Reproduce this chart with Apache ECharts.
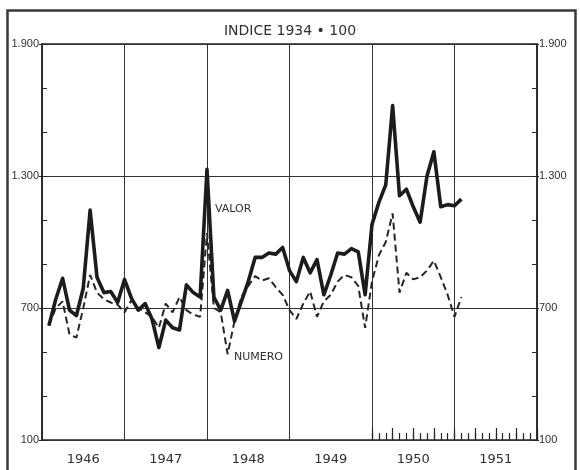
<!DOCTYPE html>
<html><head><meta charset="utf-8">
<script src="https://cdn.jsdelivr.net/npm/echarts@6/dist/echarts.min.js"></script>
<style>html,body{margin:0;padding:0;background:#fff}#c{width:580px;height:470px}</style>
</head><body><div id="c"></div>
<script>
const titleText = 'INDICE 1934 • 100';
const years = ['1946', '1947', '1948', '1949', '1950', '1951'];
const yTicks = [100, 700, 1300, 1900];
const months = [
  '1946-01','1946-02','1946-03','1946-04','1946-05','1946-06','1946-07','1946-08','1946-09','1946-10','1946-11','1946-12',
  '1947-01','1947-02','1947-03','1947-04','1947-05','1947-06','1947-07','1947-08','1947-09','1947-10','1947-11','1947-12',
  '1948-01','1948-02','1948-03','1948-04','1948-05','1948-06','1948-07','1948-08','1948-09','1948-10','1948-11','1948-12',
  '1949-01','1949-02','1949-03','1949-04','1949-05','1949-06','1949-07','1949-08','1949-09','1949-10','1949-11','1949-12',
  '1950-01','1950-02','1950-03','1950-04','1950-05','1950-06','1950-07','1950-08','1950-09','1950-10','1950-11','1950-12',
  '1951-01'
];
const valor = [
  620, 740, 835, 690, 665, 790, 1145, 840, 770, 775, 725, 830,
  745, 690, 720, 650, 520, 645, 610, 600, 805, 770, 750, 1330,
  750, 690, 780, 640, 730, 820, 930, 930, 950, 945, 975, 870,
  820, 930, 860, 920, 760, 850, 950, 945, 970, 955, 760, 1080,
  1180, 1260, 1620, 1210, 1240, 1160, 1090, 1300, 1410, 1160, 1170, 1165,
  1195
];
const numero = [
  620, 700, 730, 580, 565, 700, 850, 770, 740, 725, 715, 680,
  735, 700, 680, 660, 610, 720, 680, 750, 690, 670, 660, 1040,
  700, 680, 490, 640, 750, 800, 845, 825, 835, 795, 760, 690,
  650, 720, 775, 660, 730, 760, 820, 850, 840, 800, 610, 820,
  940, 1000, 1130, 770, 860, 830, 840, 870, 915, 840, 760, 660,
  750
];
const seriesNames = ['VALOR', 'NUMERO'];

// month position: months elapsed since start of 1946 (end of month)
function monthPos(m) {
  const [y, mo] = m.split('-').map(Number);
  return (y - 1946) * 12 + mo;
}
const valorData = months.map((m, i) => [monthPos(m), valor[i]]);
const numeroData = months.map((m, i) => [monthPos(m), numero[i]]);
const monthBounds = Array.from({length: 73}, (_, i) => String(i));

const fmt = v => v >= 1000 ? String(v).replace(/(\d)(\d{3})$/, '$1.$2') : String(v);
const ink = '#262626';
const lblFont = 'Liberation Sans';

const chart = echarts.init(document.getElementById('c'), null, {renderer: 'canvas'});
chart.setOption({
  backgroundColor: '#ffffff',
  animation: false,
  title: {
    text: titleText, left: 'center', top: 19,
    textStyle: {fontSize: 14, fontWeight: 'normal', fontFamily: 'DejaVu Sans', color: '#303030'}
  },
  grid: {left: 42, right: 43, top: 44, bottom: 30, show: true, borderColor: ink, borderWidth: 1.5, backgroundColor: 'transparent'},
  xAxis: [
    {type: 'value', min: 0, max: 72, interval: 12, position: 'bottom',
     axisLine: {show: false, onZero: false}, axisTick: {show: false}, axisLabel: {show: false},
     splitLine: {show: true, lineStyle: {color: '#333', width: 1}}},
    {type: 'category', data: years, boundaryGap: true, position: 'bottom',
     axisLine: {show: false, onZero: false}, axisTick: {show: false},
     axisLabel: {margin: 13, fontSize: 13, fontFamily: 'DejaVu Sans', color: '#303030'}},
    {type: 'category', data: monthBounds, boundaryGap: false, position: 'bottom',
     axisLine: {show: false, onZero: false}, axisLabel: {show: false},
     axisTick: {show: true, inside: true, length: 7, interval: (idx) => idx >= 48, lineStyle: {color: ink, width: 1.2}}},
    {type: 'category', data: monthBounds, boundaryGap: false, position: 'bottom',
     axisLine: {show: false, onZero: false}, axisLabel: {show: false},
     axisTick: {show: true, inside: true, length: 12, interval: (idx) => idx >= 48 && idx % 3 === 0, lineStyle: {color: ink, width: 1.2}}}
  ],
  yAxis: [
    {type: 'value', position: 'left', min: yTicks[0], max: yTicks[yTicks.length - 1], interval: yTicks[1] - yTicks[0],
     axisLine: {show: true, onZero: false, lineStyle: {color: ink, width: 1.5}},
     axisTick: {show: true, length: 3, lineStyle: {color: ink}},
     axisLabel: {formatter: fmt, margin: 3, fontSize: 11, fontFamily: lblFont, color: '#303030'},
     splitLine: {show: true, lineStyle: {color: '#333', width: 1}}},
    {type: 'value', position: 'right', min: yTicks[0], max: yTicks[yTicks.length - 1], interval: yTicks[1] - yTicks[0],
     axisLine: {show: true, onZero: false, lineStyle: {color: ink, width: 1.5}},
     axisTick: {show: true, length: 2, lineStyle: {color: ink}},
     axisLabel: {formatter: fmt, margin: 2, fontSize: 11, fontFamily: lblFont, color: '#303030'},
     splitLine: {show: false}},
    {type: 'value', position: 'left', min: 100, max: 1900, interval: 200,
     axisLine: {show: false}, axisLabel: {show: false}, splitLine: {show: false},
     axisTick: {show: true, inside: true, length: 5, lineStyle: {color: ink}}},
    {type: 'value', position: 'right', min: 100, max: 1900, interval: 200,
     axisLine: {show: false}, axisLabel: {show: false}, splitLine: {show: false},
     axisTick: {show: true, inside: true, length: 5, lineStyle: {color: ink}}}
  ],
  series: [
    {name: seriesNames[1], type: 'line', xAxisIndex: 0, yAxisIndex: 0, data: numeroData,
     symbol: 'none', z: 3,
     lineStyle: {color: '#262626', width: 2, type: [7, 4]}},
    {name: seriesNames[0], type: 'line', xAxisIndex: 0, yAxisIndex: 0, data: valorData,
     symbol: 'none', z: 4,
     lineStyle: {color: '#1c1c1c', width: 3.6, join: 'round'}}
  ],
  graphic: [
    {type: 'rect', left: 5, top: 8, shape: {x: 0, y: 0, width: 568, height: 470},
     style: {fill: 'none', stroke: '#3a3a3a', lineWidth: 2.5}, silent: true},
    {type: 'text', left: 215, top: 204, style: {text: seriesNames[0], fontSize: 11, fontFamily: 'DejaVu Sans', fill: '#303030'}},
    {type: 'text', left: 234, top: 352, style: {text: seriesNames[1], fontSize: 11, fontFamily: 'DejaVu Sans', fill: '#303030'}}
  ]
});
</script>
</body></html>
